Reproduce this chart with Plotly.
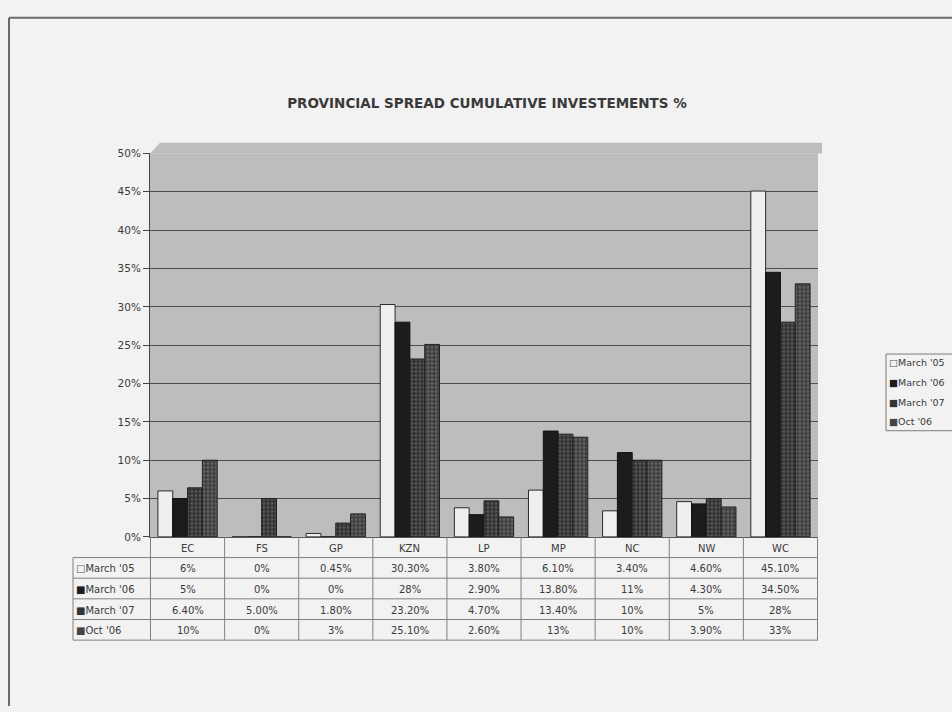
import plotly.graph_objects as go

# Provinces and cumulative investment shares (%)
provinces = ["EC", "FS", "GP", "KZN", "LP", "MP", "NC", "NW", "WC"]
series_names = ["March '05", "March '06", "March '07", "Oct '06"]

march_05 = [6, 0, 0.45, 30.30, 3.80, 6.10, 3.40, 4.60, 45.10]
march_06 = [5, 0, 0, 28, 2.90, 13.80, 11, 4.30, 34.50]
march_07 = [6.40, 5.00, 1.80, 23.20, 4.70, 13.40, 10, 5, 28]
oct_06 = [10, 0, 3, 25.10, 2.60, 13, 10, 3.90, 33]

# Text shown in the data table under the chart
label_05 = ["6%", "0%", "0.45%", "30.30%", "3.80%", "6.10%", "3.40%", "4.60%", "45.10%"]
label_06 = ["5%", "0%", "0%", "28%", "2.90%", "13.80%", "11%", "4.30%", "34.50%"]
label_07 = ["6.40%", "5.00%", "1.80%", "23.20%", "4.70%", "13.40%", "10%", "5%", "28%"]
label_oct = ["10%", "0%", "3%", "25.10%", "2.60%", "13%", "10%", "3.90%", "33%"]

y_ticks = list(range(0, 51, 5))

W, H = 952, 712
PAGE_BG = "#f2f2f2"
WALL = "#bdbdbd"
FONT = "DejaVu Sans, Verdana, sans-serif"
TEXT = "#3a3a3a"

fills = ["#efefef", "#1c1c1c", "#333333", "#404040"]
dots = [None, None, "#5c5c5c", "#686868"]
outlines = ["#2a2a2a", "#111111", "#1e1e1e", "#222222"]
values = [march_05, march_06, march_07, oct_06]
labels = [label_05, label_06, label_07, label_oct]


def px_x(x):
    return x / W


def px_y(y):
    return 1 - y / H


# plot box and table geometry in pixels
X0, X1 = 150, 818
Y_TOP, Y_ZERO = 150, 540
ROW_H = 21
LABEL_LEFT = 73

fig = go.Figure()
for name, vals, fc, dc, lc in zip(series_names, values, fills, dots, outlines):
    marker = dict(color=fc, line=dict(color=lc, width=1))
    if dc:
        marker["pattern"] = dict(shape=".", bgcolor=fc, fgcolor=dc,
                                 size=4, solidity=0.35, fillmode="replace")
    fig.add_trace(go.Bar(x=provinces, y=vals, name=name, marker=marker,
                         showlegend=False))

shapes = []
annotations = []

# page frame (left and top edges)
shapes.append(dict(type="line", xref="paper", yref="paper",
                   x0=px_x(9), x1=px_x(9), y0=0, y1=px_y(12),
                   line=dict(color="#6a6a6a", width=2)))
shapes.append(dict(type="line", xref="paper", yref="paper",
                   x0=px_x(9), x1=1, y0=px_y(12), y1=px_y(12),
                   line=dict(color="#6a6a6a", width=2)))

# top edge of the back wall, seen in depth above the 50% line
shapes.append(dict(type="path", xref="paper", yref="paper", layer="below",
                   path=(f"M {px_x(X0)},{px_y(Y_TOP)} L {px_x(X0 + 10)},{px_y(Y_TOP - 11)} "
                         f"L {px_x(X1 + 4)},{px_y(Y_TOP - 11)} L {px_x(X1 + 4)},{px_y(Y_TOP)} Z"),
                   fillcolor=WALL, line=dict(width=0)))

# data table grid
n_rows = 1 + len(series_names)
table_bottom = Y_ZERO + n_rows * ROW_H
GRID = "#808080"
for i in range(1, n_rows + 1):
    yy = Y_ZERO + i * ROW_H
    shapes.append(dict(type="line", xref="paper", yref="paper",
                       x0=px_x(LABEL_LEFT), x1=px_x(X1), y0=px_y(yy), y1=px_y(yy),
                       line=dict(color=GRID, width=1)))
shapes.append(dict(type="line", xref="paper", yref="paper",
                   x0=px_x(LABEL_LEFT), x1=px_x(LABEL_LEFT),
                   y0=px_y(Y_ZERO + ROW_H), y1=px_y(table_bottom),
                   line=dict(color=GRID, width=1)))
for k in range(len(provinces) + 1):
    shapes.append(dict(type="line", xref="x", yref="paper",
                       x0=k - 0.5, x1=k - 0.5, y0=px_y(Y_ZERO), y1=px_y(table_bottom),
                       line=dict(color=GRID, width=1)))

cell_font = dict(family=FONT, size=10, color=TEXT)

# header row: province names
for p in provinces:
    annotations.append(dict(x=p, xref="x", y=px_y(Y_ZERO + ROW_H / 2 + 1), yref="paper",
                            yanchor="middle", text=p, showarrow=False, font=cell_font))

# data rows with a small swatch before each series name
swatch = ["\u25a1", "\u25a0", "\u25a0", "\u25a0"]
sw_colors = ["#555555", "#1c1c1c", "#333333", "#444444"]
for r, (name, row) in enumerate(zip(series_names, labels)):
    yc = px_y(Y_ZERO + (r + 1.5) * ROW_H + 1)
    annotations.append(dict(
        x=px_x(LABEL_LEFT + 1), xref="paper", xanchor="left", y=yc, yref="paper",
        yanchor="middle",
        text=f"<span style='color:{sw_colors[r]}'>{swatch[r]}</span>{name}",
        showarrow=False, font=cell_font))
    for p, t in zip(provinces, row):
        annotations.append(dict(x=p, xref="x", y=yc, yref="paper", yanchor="middle",
                                text=t, showarrow=False, font=cell_font))

# legend box at the right edge of the page
LEG_LEFT, LEG_TOP, LEG_STEP = 886, 354, 20
shapes.append(dict(type="rect", xref="paper", yref="paper",
                   x0=px_x(LEG_LEFT), x1=px_x(W + 10),
                   y0=px_y(LEG_TOP), y1=px_y(LEG_TOP + 4 * LEG_STEP - 2),
                   line=dict(color="#7a7a7a", width=1), fillcolor=PAGE_BG))
for r, name in enumerate(series_names):
    annotations.append(dict(
        x=px_x(LEG_LEFT + 1), xref="paper", xanchor="left",
        y=px_y(LEG_TOP + 9 + r * LEG_STEP), yref="paper", yanchor="middle",
        text=f"<span style='color:{sw_colors[r]}'>{swatch[r]}</span>{name}",
        showarrow=False, font=dict(family=FONT, size=9.5, color=TEXT)))

fig.update_layout(
    width=W, height=H, autosize=False,
    margin=dict(l=0, r=0, t=0, b=0),
    paper_bgcolor=PAGE_BG,
    plot_bgcolor=WALL,
    barmode="group", bargap=0.2, bargroupgap=0,
    showlegend=False,
    title=dict(text="<b>PROVINCIAL SPREAD CUMULATIVE INVESTEMENTS %</b>",
               x=px_x(487), xanchor="center", y=px_y(103), yanchor="middle",
               font=dict(family=FONT, size=13.5, color=TEXT)),
    xaxis=dict(domain=[px_x(X0), px_x(X1)], showticklabels=False, ticks="",
               showgrid=False, showline=True, linecolor="#555555", linewidth=1,
               fixedrange=True),
    yaxis=dict(domain=[px_y(Y_ZERO), px_y(Y_TOP)], range=[0, 50],
               tickvals=y_ticks, ticktext=[f"{v}%" for v in y_ticks],
               ticks="outside", ticklen=6, tickcolor="#444444",
               tickfont=dict(family=FONT, size=10.5, color=TEXT),
               showline=True, linecolor="#444444", linewidth=1,
               showgrid=True, gridcolor="#4f4f4f", gridwidth=1.2,
               zeroline=False, fixedrange=True),
    shapes=shapes,
    annotations=annotations,
)

fig.write_html("out.html")
